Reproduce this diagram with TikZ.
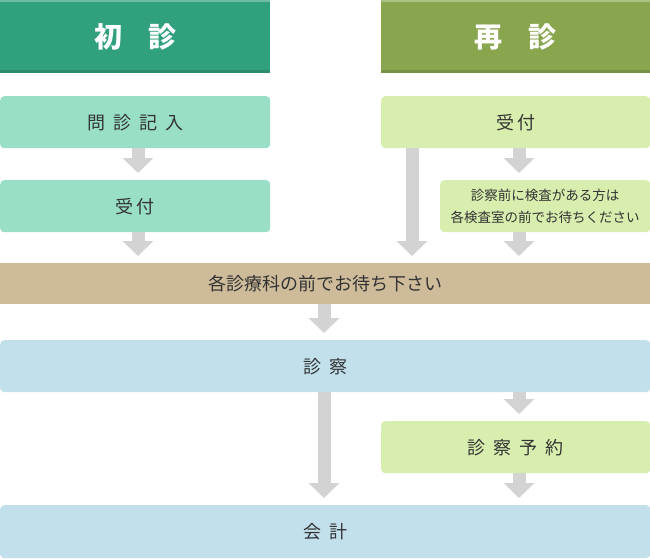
\documentclass[tikz,border=0pt]{standalone}
\usepackage{fontspec}
\newfontfamily\jp{Noto Sans CJK JP}
\usetikzlibrary{arrows.meta}

\definecolor{shoshin}{HTML}{31A07E}
\definecolor{saishin}{HTML}{89A64E}
\definecolor{teal}{HTML}{98DFC6}
\definecolor{lime}{HTML}{D8EEAE}
\definecolor{sand}{HTML}{CDBB9A}
\definecolor{sky}{HTML}{C2DFEC}
\definecolor{flowgray}{HTML}{D3D3D3}
\definecolor{ink}{HTML}{333333}

\newcommand{\gap}{\hspace{8pt}}

\tikzset{
  head/.style = {anchor=north west, inner sep=0pt, minimum height=73pt, text=white,
    font=\jp\bfseries\fontsize{28}{30}\selectfont,
    path picture={
      \fill[white, opacity=.3] (path picture bounding box.north west) rectangle ([yshift=-2pt]path picture bounding box.north east);
      \fill[black, opacity=.12] (path picture bounding box.south west) rectangle ([yshift=3pt]path picture bounding box.south east);}},
  box/.style = {anchor=north west, inner sep=0pt, rounded corners=4pt, minimum height=52pt,
    text=ink, font=\jp\fontsize{18}{22}\selectfont},
  flow/.style = {draw=flowgray, line width=13pt, shorten >=7pt,
    -{Triangle[length=15pt, width=30pt]}}
}

\begin{document}
\begin{tikzpicture}[x=1pt, y=-1pt]
  \useasboundingbox (0,0) rectangle (650,558);

  % headers
  \node (first) at (0,0) [head, fill=shoshin, minimum width=270pt] {初\hspace{26pt}診};
  \node (repeat) at (381,0) [head, fill=saishin, minimum width=269pt] {再\hspace{26pt}診};

  % first visit
  \node (monshin) at (0,96) [box, fill=teal, minimum width=270pt] {問\gap 診\gap 記\gap 入};
  \node (uketsukeL) at (0,180) [box, fill=teal, minimum width=270pt] {受\hspace{3pt}付};

  % repeat visit
  \node (uketsukeR) at (381,96) [box, fill=lime, minimum width=269pt] {受\hspace{3pt}付};
  \node (kensa) at (440,180) [box, fill=lime, minimum width=210pt, align=center,
    font=\jp\fontsize{13.5}{22}\selectfont] {診察前に検査がある方は\\各検査室の前でお待ちください};

  % common
  \node (machi) at (0,263) [box, fill=sand, rounded corners=0pt, minimum width=650pt,
    minimum height=41pt] {各診療科の前でお待ち下さい};
  \node (shinsatsu) at (0,340) [box, fill=sky, minimum width=650pt] {診\gap 察};
  \node (yoyaku) at (381,421) [box, fill=lime, minimum width=269pt] {診\gap 察\gap 予\gap 約};
  \node (kaikei) at (0,505) [box, fill=sky, minimum width=650pt, minimum height=53pt] {会\gap 計};

  % arrow columns
  \coordinate (colL) at (138,0);
  \coordinate (colM) at (324,0);
  \coordinate (colR) at (412,0);
  \coordinate (colS) at (519,0);

  \draw[flow] (monshin.south -| colL) -- (uketsukeL.north -| colL);
  \draw[flow] (uketsukeL.south -| colL) -- (machi.north -| colL);
  \draw[flow] (uketsukeR.south -| colR) -- (machi.north -| colR);
  \draw[flow] (uketsukeR.south -| colS) -- (kensa.north -| colS);
  \draw[flow] (kensa.south -| colS) -- (machi.north -| colS);
  \draw[flow] (machi.south -| colM) -- (shinsatsu.north -| colM);
  \draw[flow] (shinsatsu.south -| colM) -- (kaikei.north -| colM);
  \draw[flow] (shinsatsu.south -| colS) -- (yoyaku.north -| colS);
  \draw[flow] (yoyaku.south -| colS) -- (kaikei.north -| colS);
\end{tikzpicture}
\end{document}
